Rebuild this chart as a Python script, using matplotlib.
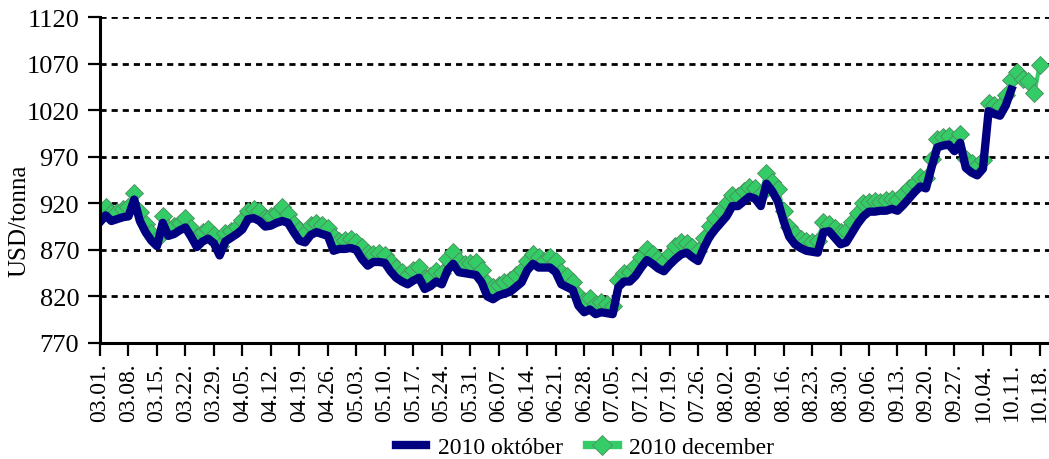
import matplotlib
matplotlib.use("Agg")
import matplotlib.pyplot as plt
from matplotlib.lines import Line2D

plt.rcParams["font.family"] = ["Liberation Serif", "DejaVu Serif"]

# weekly tick labels (every 5th trading day)
week_labels = [
  "03.01.", "03.08.", "03.15.", "03.22.", "03.29.", "04.05.", "04.12.",
  "04.19.", "04.26.", "05.03.", "05.10.", "05.17.", "05.24.", "05.31.",
  "06.07.", "06.14.", "06.21.", "06.28.", "07.05.", "07.12.", "07.19.",
  "07.26.", "08.02.", "08.09.", "08.16.", "08.23.", "08.30.", "09.06.",
  "09.13.", "09.20.", "09.27.", "10.04.", "10.11.", "10.18.",
]

# daily prices, USD/tonna
oktober = [
  900, 907, 901, 903, 905, 906, 924, 901, 889, 880,
  874, 899, 885, 887, 891, 894, 884, 873, 879, 882,
  877, 864, 879, 883, 887, 892, 903, 904, 901, 895,
  896, 899, 901, 899, 889, 880, 878, 886, 889, 887,
  885, 869, 871, 871, 872, 870, 860, 853, 857, 857,
  856, 847, 840, 836, 833, 837, 840, 828, 831, 836,
  833, 848, 855, 846, 845, 844, 843, 835, 820, 817,
  821, 823, 825, 830, 835, 848, 855, 851, 851, 851,
  846, 833, 830, 827, 810, 803, 806, 801, 803, 802,
  801, 830, 836, 836, 842, 851, 859, 855, 850, 847,
  854, 860, 865, 867, 862, 858, 872, 884, 892, 899,
  906, 917, 917, 922, 927, 925, 917, 941, 933, 922,
  901, 884, 876, 872, 869, 868, 867, 889, 890, 883,
  876, 878, 888, 898, 906, 911, 911, 912, 912, 914,
  912, 918, 925, 932, 938, 936, 959, 980, 982, 983,
  976, 985, 958, 953, 950, 957, 1019, 1016, 1014, 1025,
  1042,
]

december = [
  905, 916, 910, 911, 914, 916, 931, 911, 898, 888,
  882, 906, 894, 896, 899, 904, 893, 884, 889, 892,
  886, 874, 888, 890, 895, 902, 912, 914, 912, 904,
  906, 910, 916, 908, 898, 891, 888, 897, 899, 897,
  894, 884, 880, 881, 882, 878, 873, 867, 866, 867,
  865, 857, 850, 846, 843, 848, 852, 840, 842, 847,
  845, 860, 868, 858, 855, 856, 857, 848, 834, 830,
  832, 835, 838, 843, 848, 858, 866, 862, 858, 862,
  858, 846, 842, 836, 822, 815, 818, 812, 814, 812,
  810, 838, 845, 846, 853, 862, 871, 866, 860, 858,
  866, 874, 878, 877, 873, 869, 883, 896, 904, 912,
  920, 929, 928, 933, 938, 936, 930, 952, 943, 935,
  912, 895, 887, 882, 880, 878, 880, 900, 898, 893,
  889, 890, 900, 910, 920, 921, 922, 921, 923, 925,
  923, 930, 936, 942, 948, 947, 968, 989, 991, 992,
  985, 994, 968, 963, 960, 966, 1028, 1025, 1024, 1036,
  1052, 1061, 1053, 1051, 1038, 1069,
]

BLUE = "#000080"
GREEN = "#33CC66"
EDGE = "#4d8a60"

fig = plt.figure(figsize=(10.49, 4.6), dpi=100)
ax = fig.add_axes([100 / 1049, 1 - 344 / 460, 949 / 1049, 326 / 460])

ax.plot(range(len(december)), december,
  color=GREEN, linewidth=3, marker="D", markersize=9,
  markerfacecolor=GREEN, markeredgecolor=EDGE, markeredgewidth=0.6,
  zorder=3)
ax.plot(range(len(oktober)), oktober,
  color=BLUE, linewidth=6, zorder=4)

ax.set_xlim(0, 166.6)
ax.set_ylim(770, 1120)
ax.set_yticks(range(770, 1121, 50))
ax.set_xticks([5 * i for i in range(len(week_labels))])
ax.set_xticklabels(week_labels, rotation=90, fontsize=17)
ax.tick_params(axis="y", labelsize=19, direction="out", length=9, width=1.6, pad=6)
ax.tick_params(axis="x", direction="out", length=9, width=1.6, pad=5)

for y in range(820, 1121, 50):
  ax.axhline(y, color="black", linewidth=2, linestyle=(0, (2.2, 1.8)), zorder=1)

for side in ("top", "right"):
  ax.spines[side].set_visible(False)
for side in ("left", "bottom"):
  ax.spines[side].set_linewidth(2.2)
  ax.spines[side].set_zorder(5)

fig.text(19 / 1049, 1 - 221 / 460, "USD/tonna", rotation=90,
  ha="center", va="center", fontsize=18)

handles = [
  Line2D([], [], color=BLUE, linewidth=6),
  Line2D([], [], color=GREEN, linewidth=6, marker="D", markersize=10,
    markeredgecolor=EDGE, markeredgewidth=0.6),
]
fig.legend(handles, ["2010 október", "2010 december"],
  loc="center", bbox_to_anchor=(585 / 1049, 1 - 448 / 460),
  ncol=2, frameon=False, fontsize=17, handlelength=1.3,
  handletextpad=0.5, columnspacing=1.0, borderpad=0.1)

fig.savefig("out.png", dpi=100)
